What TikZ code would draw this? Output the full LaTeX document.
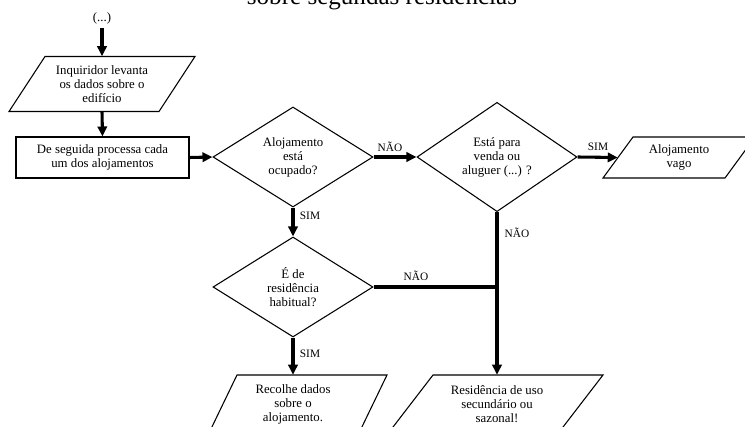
\documentclass[tikz,border=0pt]{standalone}
\usepackage{fontspec}
\setmainfont{Liberation Serif}
\usetikzlibrary{arrows.meta,shapes.geometric,calc}
\begin{document}
\begin{tikzpicture}[x=0.75pt,y=-0.75pt,
  shapeline/.style={draw=black,line width=0.8pt},
  flow/.style={line width=2.3pt,-{Triangle[length=7.5pt,width=7pt]}},
  plainflow/.style={line width=2.3pt},
  txt/.style={font=\fontsize{9.6}{10.5}\selectfont,align=center,inner sep=0pt},
  lbl/.style={font=\fontsize{8.5}{10}\selectfont,inner sep=0pt},
  dia/.style={shape=diamond,shapeline,txt,minimum width=120pt,minimum height=75pt,inner sep=0pt},
  ptext/.style={txt,minimum height=#1}
]
\useasboundingbox (0,0) rectangle (745,427);
\clip (0,0) rectangle (745,427);

% title (cut at top)
\node[anchor=base,font=\fontsize{18.8}{20}\selectfont,inner sep=0pt] (title) at (382,5) {sobre segundas residências};

% start
\node[lbl,font=\fontsize{9.6}{10.5}\selectfont] (start) at (102,18) {(...)};
\coordinate (s0) at (102,28);

% parallelogram 1
\node[ptext=41.25pt] (p1) at (102,84) {Inquiridor levanta\\os dados sobre o\\edifício};
\draw[shapeline] ($(p1)+(-57,-27.5)$) -- ($(p1)+(93,-27.5)$) -- ($(p1)+(57,27.5)$) -- ($(p1)+(-93,27.5)$) -- cycle;

% rectangle
\node[txt,shapeline,minimum width=129.75pt,minimum height=30.75pt] (rect) at (102.5,157.5) {De seguida processa cada\\um dos alojamentos};

% diamonds
\node[dia] (d1) at (293,157) {Alojamento\\está\\ocupado?};
\node[dia] (d2) at (497,157) {Está para\\venda ou\\aluguer (...) ?};
\node[dia] (d3) at (293,287) {É de\\residência\\habitual?};

% alojamento vago
\node[txt,minimum width=91.5pt,minimum height=30.75pt] (vago) at (679,157.5) {Alojamento\\vago};
\draw[shapeline] ($(vago)+(-46,-20.5)$) -- ($(vago)+(76,-20.5)$) -- ($(vago)+(46,20.5)$) -- ($(vago)+(-76,20.5)$) -- cycle;

% bottom parallelograms
\node[ptext=43.5pt] (p4) at (293,404) {Recolhe dados\\sobre o\\alojamento.};
\draw[shapeline] ($(p4)+(-56,-29)$) -- ($(p4)+(94,-29)$) -- ($(p4)+(66,29)$) -- ($(p4)+(-84,29)$) -- cycle;

\node[ptext=43.5pt] (p5) at (497,404) {Residência de uso\\secundário ou\\sazonal!};
\draw[shapeline] ($(p5)+(-64,-29)$) -- ($(p5)+(106,-29)$) -- ($(p5)+(61.4,29)$) -- ($(p5)+(-108.6,29)$) -- cycle;

% connectors
\draw[flow] (s0) -- (p1.north);
\draw[flow] (p1.south) -- (rect.north);
\draw[flow] (rect.east) -- (d1.west);
\draw[flow] (d1.east) -- (d2.west);
\draw[flow] (d2.east) -- (vago.west);
\draw[flow] (d1.south) -- (d3.north);
\draw[flow] (d3.south) -- (p4.north);
\draw[flow] (d2.south) -- (p5.north);
\coordinate (j) at (d3.east -| d2.south);
\draw[plainflow] (d3.east) -- (j);

% labels
\node[lbl] (l1) at (390,147) {NÃO};
\node[lbl] (l2) at (598,147) {SIM};
\node[lbl] (l3) at (517,233) {NÃO};
\node[lbl] (l4) at (310,216) {SIM};
\node[lbl] (l5) at (416,276) {NÃO};
\node[lbl] (l6) at (310,354) {SIM};
\end{tikzpicture}
\end{document}
